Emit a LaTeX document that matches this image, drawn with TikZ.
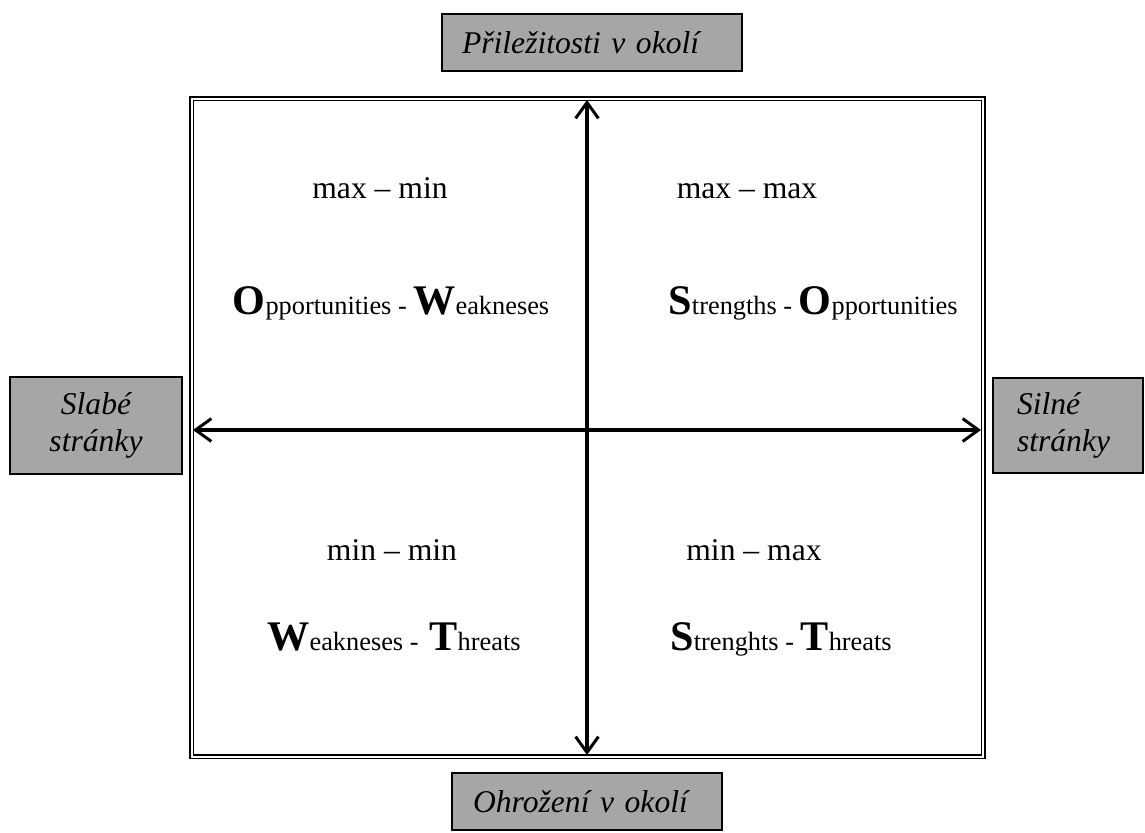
\documentclass[tikz,border=0pt]{standalone}
\usepackage{fontspec}
\setmainfont{Liberation Serif}
\usetikzlibrary{arrows.meta}

\tikzset{
    label box/.style={rectangle, draw, line width=1.1pt, fill=boxgray, font=\fontsize{18}{21}\selectfont\itshape, inner sep=0pt},
    cell text/.style={font=\fontsize{18}{21}\selectfont, inner sep=0pt, anchor=base},
    axis/.style={line width=1.8pt, {Straight Barb[length=9pt,width=13pt,line width=1.7pt]}-{Straight Barb[length=9pt,width=13pt,line width=1.7pt]}}
}
\definecolor{boxgray}{HTML}{A6A6A6}
\newcommand{\initial}[1]{{\fontsize{24}{24}\selectfont\bfseries #1}}
\newcommand{\rest}[1]{{\fontsize{15}{18}\selectfont #1}}

\begin{document}
\begin{tikzpicture}[x=0.02cm, y=-0.02cm]
    \useasboundingbox (0,0) rectangle (1145,832);
    % double frame
    \draw[line width=0.85pt, double, double distance=1.15pt] (191.8,98.8) rectangle (983.2,756.5);

    % axes
    \coordinate (top) at (587,100);
    \coordinate (bottom) at (587,755);
    \coordinate (left) at (193,430);
    \coordinate (right) at (981,430);
    \draw[axis] (bottom) -- (top);
    \draw[axis] (left) -- (right);

    % outside labels
    \node[label box, minimum width=6cm, minimum height=1.14cm, text width=5.2cm, align=left] (opp) at (592,42.5) {Přiležitosti v okolí};
    \node[label box, minimum width=5.4cm, minimum height=1.14cm, text width=4.56cm, align=left] (thr) at (587,801.5) {Ohrožení v okolí};
    \node[label box, minimum width=3.44cm, minimum height=1.94cm, align=center] (weak) at (96,425.5) {Slabé\\stránky};
    \node[label box, minimum width=3cm, minimum height=1.9cm, text width=2.04cm, align=left] (str) at (1068,425.5) {Silné\\stránky};

    % quadrants
    \node[cell text] (ow head) at (380,198) {max -- min};
    \node[cell text] (so head) at (747,198) {max -- max};
    \node[cell text] (ow) at (391,314) {\initial{O}\rest{pportunities - }\initial{W}\rest{eakneses}};
    \node[cell text] (so) at (813,314) {\initial{S}\rest{trengths - }\initial{O}\rest{pportunities}};
    \node[cell text] (wt head) at (392,560) {min -- min};
    \node[cell text] (st head) at (754,560) {min -- max};
    \node[cell text] (wt) at (394,650) {\initial{W}\rest{eakneses -\, }\initial{T}\rest{hreats}};
    \node[cell text] (st) at (781,650) {\initial{S}\rest{trenghts - }\initial{T}\rest{hreats}};
\end{tikzpicture}
\end{document}
